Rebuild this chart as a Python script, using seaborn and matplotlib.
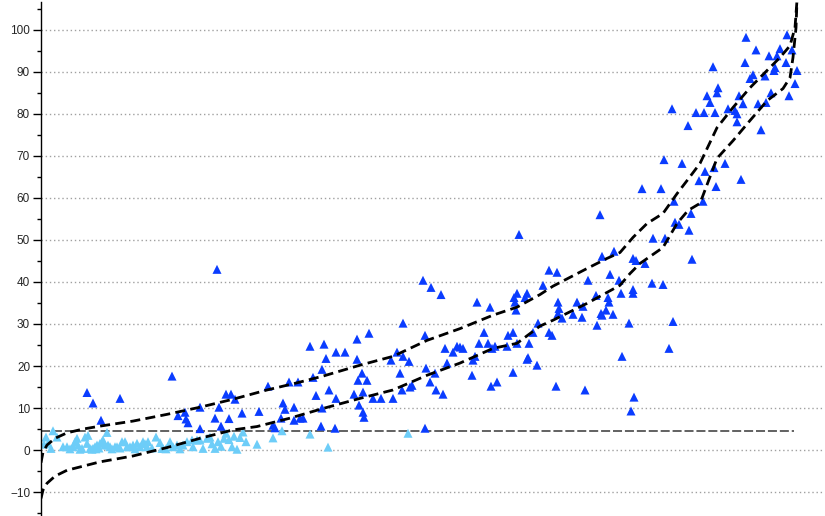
import numpy as np
import pandas as pd
import matplotlib
matplotlib.use("Agg")
import matplotlib.pyplot as plt
import seaborn as sns
from matplotlib.ticker import MultipleLocator

# dark blue points (rank position, value)
dark_x = [87, 93, 101, 120, 172, 178, 185, 186, 188, 200, 200, 215, 217, 219, 221, 226, 231, 229,
          235, 242, 259, 268, 273, 275, 281, 283, 285, 289, 294, 294, 298, 300, 303, 310, 313, 316,
          321, 322, 322, 324, 326, 329, 335, 336, 336, 345, 354, 357, 357, 358, 359, 362, 363, 363,
          364, 367, 369, 373, 381, 391, 393, 397, 400, 402, 403, 403, 409, 410, 412, 423, 425, 426,
          425, 430, 431, 435, 436, 441, 443, 445, 447, 453, 457, 460, 463, 472, 473, 475, 477, 479,
          484, 488, 490, 491, 492, 495, 497, 507, 508, 513, 513, 514, 515, 516, 517, 517, 519, 527,
          528, 529, 533, 537, 538, 525, 549, 557, 588, 543, 596, 609, 558, 577, 583, 559, 558, 606,
          601, 602, 613, 562, 573, 582, 597, 629, 673, 549, 552, 669, 622, 527, 556, 585, 634, 631,
          600, 602, 614, 633, 636, 645, 610, 619, 652, 663, 608, 621, 633, 633, 642, 661, 674, 703,
          691, 675, 679, 689, 653, 665, 692, 664, 682, 705, 699, 714, 725, 716, 741, 672, 688, 761,
          696, 704, 715, 728, 735, 737, 737, 739, 743, 758, 766, 771, 707, 710, 718, 717, 713, 750,
          753, 765, 775, 774, 797, 795, 789, 745, 777, 786, 746, 787, 756, 769, 780, 792]
dark_y = [13.7, 11.2, 7.1, 12.3, 17.6, 8.2, 9.0, 7.4, 6.5, 10.2, 5.1, 7.6, 43.0, 10.2, 5.7, 13.3, 13.3, 7.5,
          12.1, 8.8, 9.2, 15.2, 5.9, 5.3, 7.6, 11.2, 9.7, 16.2, 10.2, 7.1, 16.2, 7.6, 7.6, 24.7, 17.3, 13.0,
          5.7, 19.2, 10.0, 25.2, 21.8, 14.3, 5.2, 12.3, 23.3, 23.3, 13.3, 26.4, 21.6, 16.6, 10.7, 18.3, 13.8, 9.0,
          7.8, 16.6, 27.8, 12.3, 12.3, 21.4, 12.3, 23.3, 18.3, 14.3, 30.2, 22.3, 21.1, 15.0, 15.4, 40.4, 27.3, 19.5,
          5.2, 16.2, 38.7, 18.3, 14.3, 37.0, 13.3, 24.2, 20.7, 23.3, 24.7, 24.5, 24.2, 17.8, 21.4, 22.3, 35.2, 25.4,
          28.0, 25.4, 34.0, 15.2, 24.2, 24.7, 16.2, 24.7, 27.3, 28.0, 18.5, 36.3, 35.2, 33.3, 37.3, 25.4, 51.3, 37.3,
          22.0, 25.4, 28.0, 20.2, 30.2, 36.3, 42.8, 42.3, 40.4, 39.2, 36.8, 35.2, 35.2, 35.2, 34.2, 33.7, 32.5, 33.3,
          32.5, 32.1, 32.3, 31.4, 32.3, 31.6, 29.7, 30.2, 30.6, 28.0, 27.3, 24.2, 22.3, 21.6, 15.2, 14.3, 12.6, 9.3,
          56.0, 46.1, 47.3, 45.6, 45.1, 44.4, 41.8, 40.4, 39.7, 39.4, 36.3, 37.3, 38.2, 37.3, 62.2, 62.2, 59.2, 59.2,
          56.3, 54.2, 53.7, 52.3, 50.4, 50.4, 45.4, 69.1, 68.2, 66.3, 64.1, 67.2, 68.2, 62.7, 64.4, 81.2, 77.2, 76.2,
          80.3, 80.3, 80.3, 81.2, 80.8, 80.0, 78.1, 84.3, 82.4, 82.4, 82.7, 85.0, 84.3, 82.7, 86.2, 85.0, 91.2, 88.4,
          89.3, 89.0, 91.0, 90.3, 90.3, 87.2, 84.3, 92.2, 93.8, 92.2, 98.2, 98.8, 95.2, 93.8, 95.5, 95.2]

# light blue points
light_x = [44, 46, 48, 51, 53, 57, 63, 67, 73, 77, 78, 82, 85, 87, 88, 90, 93, 95, 97, 100, 102, 103,
           105, 107, 108, 110, 115, 117, 125, 127, 130, 133, 137, 140, 143, 147, 148, 156, 162, 163,
           170, 173, 177, 183, 187, 192, 193, 197, 200, 203, 207, 210, 70, 75, 80, 92, 96, 99, 112,
           120, 122, 135, 145, 152, 160, 166, 180, 212, 215, 218, 221, 224, 226, 229, 232, 234, 237,
           240, 243, 246, 257, 273, 282, 310, 328, 408]
light_y = [1.4, 3.1, 1.6, 0.4, 4.6, 3.1, 0.8, 0.8, 0.8, 2.8, 1.2, 0.4, 3.1, 1.6, 3.5, 0.4, 0.4, 0.8, 1.2,
           1.6, 2.0, 2.4, 1.2, 4.2, 1.2, 0.8, 0.8, 0.8, 2.0, 0.8, 0.8, 1.2, 1.6, 0.8, 2.0, 0.8, 2.0, 3.1,
           0.4, 0.4, 2.0, 0.8, 1.2, 1.2, 2.0, 2.4, 0.8, 2.4, 2.4, 0.4, 2.8, 3.1, 0.3, 2.0, 0.2, 0.2, 0.3,
           0.5, 0.3, 0.5, 2.0, 0.3, 1.5, 0.5, 1.8, 0.3, 0.3, 1.5, 0.4, 2.0, 0.9, 2.8, 4.0, 2.5, 0.8, 3.3,
           0.2, 3.0, 4.3, 2.0, 1.4, 2.9, 4.6, 3.8, 0.7, 4.0]

# dashed band curves
upper_x = [41, 43, 47, 55, 67, 83, 100, 133, 167, 200, 233, 267, 297, 323, 360, 393, 427, 460, 493,
           517, 540, 553, 587, 607, 620, 633, 647, 663, 677, 687, 700, 717, 733, 750, 767, 780, 790,
           795, 797]
upper_y = [-3.0, -0.5, 1.2, 2.8, 4.1, 5.0, 5.7, 6.9, 8.5, 10.2, 12.1, 14.3, 16.0, 17.6, 20.2, 22.3,
           26.1, 28.9, 32.1, 34.0, 37.0, 39.0, 43.2, 45.6, 47.0, 50.6, 53.9, 56.3, 61.0, 64.1, 68.2,
           76.7, 81.5, 86.2, 90.3, 93.4, 96.2, 100.5, 107.0]
lower_x = [41, 43, 47, 55, 67, 100, 133, 167, 200, 233, 257, 290, 323, 360, 393, 427, 460, 493, 517,
           540, 553, 587, 620, 630, 640, 663, 677, 688, 700, 717, 733, 750, 767, 783, 790, 793, 796,
           797]
lower_y = [-11.5, -9.5, -7.9, -6.2, -4.8, -2.8, -1.4, 0.6, 2.8, 4.8, 5.6, 7.6, 9.9, 12.3, 14.3, 17.8,
           20.7, 24.2, 25.4, 29.5, 30.9, 34.9, 39.2, 42.0, 44.4, 48.2, 53.9, 57.0, 58.7, 69.4, 73.6,
           78.4, 83.1, 86.0, 88.6, 93.4, 100.5, 107.0]

threshold = 4.5
yticks = list(range(-10, 101, 10))

sns.set_style("white")
plt.rcParams["font.family"] = ["Liberation Sans", "DejaVu Sans"]

fig = plt.figure(figsize=(8.25, 5.16), dpi=100)
ax = fig.add_axes([40.5 / 825, 0, (823 - 40.5) / 825, 514 / 516])

for yv in yticks:
    ax.axhline(yv, color="#a0a0a0", lw=1.0, linestyle=(0, (1, 2)), zorder=0)

ax.plot([41, 794], [threshold, threshold], color="#555555", lw=1.3,
        linestyle=(0, (5, 1.6)), zorder=1)

pts = pd.DataFrame({
    "x": light_x + dark_x,
    "y": light_y + dark_y,
    "grp": ["low"] * len(light_x) + ["high"] * len(dark_x),
})
sns.scatterplot(data=pts, x="x", y="y", hue="grp", marker="^", s=42,
                palette={"low": "#6dcdf8", "high": "#0a3cff"},
                edgecolor=None, linewidth=0, legend=False, ax=ax, zorder=2)

band = pd.concat([
    pd.DataFrame({"x": upper_x, "y": upper_y, "b": "upper"}),
    pd.DataFrame({"x": lower_x, "y": lower_y, "b": "lower"}),
])
for name, g in band.groupby("b"):
    sns.lineplot(data=g, x="x", y="y", sort=False, estimator=None, color="black",
                 lw=2.0, ax=ax, zorder=3, linestyle=(0, (3.6, 1.9)))

ax.set_xlim(40.5, 823)
ax.set_ylim(-15.68, 106.6)
ax.set_yticks(yticks)
ax.yaxis.set_minor_locator(MultipleLocator(5))
ax.set_xticks([])
ax.set_xlabel("")
ax.set_ylabel("")
for s in ["top", "right", "bottom"]:
    ax.spines[s].set_visible(False)
ax.spines["left"].set_color("black")
ax.spines["left"].set_linewidth(1.0)
ax.tick_params(axis="y", which="major", length=6, width=1.0, direction="out",
               labelsize=8.5, pad=1.5, left=True, color="black")
ax.tick_params(axis="y", which="minor", length=3, width=1.0, direction="out",
               left=True, color="black")

fig.savefig("out.png", dpi=100)
